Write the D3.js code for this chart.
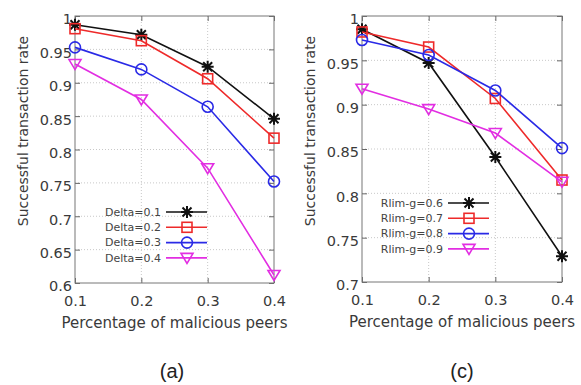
<!DOCTYPE html>
<html>
<head>
<meta charset="utf-8">
<script src="https://cdn.jsdelivr.net/npm/d3@7"></script>
<style>
  body { margin: 0; background: #fff; }
  svg { display: block; }
  .tick text { font-family: "DejaVu Sans", sans-serif; fill: #3a3a3a; }
</style>
</head>
<body>
<div id="chart"></div>
<script>
const xValues = [0.1, 0.2, 0.3, 0.4];

const deltaNames = ['Delta=0.1', 'Delta=0.2', 'Delta=0.3', 'Delta=0.4'];
const delta01 = [0.987, 0.972, 0.924, 0.846];
const delta02 = [0.981, 0.963, 0.906, 0.817];
const delta03 = [0.953, 0.920, 0.864, 0.752];
const delta04 = [0.928, 0.875, 0.772, 0.612];

const rlimNames = ['Rlim-g=0.6', 'Rlim-g=0.7', 'Rlim-g=0.8', 'Rlim-g=0.9'];
const rlim06 = [0.985, 0.947, 0.841, 0.729];
const rlim07 = [0.982, 0.965, 0.907, 0.815];
const rlim08 = [0.973, 0.956, 0.916, 0.851];
const rlim09 = [0.918, 0.895, 0.868, 0.813];

const leftTicks = [0.6, 0.65, 0.7, 0.75, 0.8, 0.85, 0.9, 0.95, 1];
const rightTicks = [0.7, 0.75, 0.8, 0.85, 0.9, 0.95, 1];

const colors = ['#111111', '#ee2a2a', '#2a2ae6', '#e22ee2'];
const symbols = ['star', 'square', 'circle', 'triangle'];

const svg = d3.select('#chart').append('svg')
  .attr('width', 581)
  .attr('height', 385);

function drawMarker(g, type, cx, cy, color) {
  const r = 6;
  if (type === 'star') {
    const p = d3.path();
    p.moveTo(cx - r, cy); p.lineTo(cx + r, cy);
    p.moveTo(cx, cy - r); p.lineTo(cx, cy + r);
    p.moveTo(cx - r * 0.75, cy - r * 0.75); p.lineTo(cx + r * 0.75, cy + r * 0.75);
    p.moveTo(cx - r * 0.75, cy + r * 0.75); p.lineTo(cx + r * 0.75, cy - r * 0.75);
    g.append('path').attr('d', p.toString()).attr('stroke', color).attr('stroke-width', 2).attr('fill', 'none');
  } else if (type === 'square') {
    g.append('rect').attr('x', cx - 5).attr('y', cy - 5).attr('width', 10).attr('height', 10)
      .attr('stroke', color).attr('stroke-width', 1.6).attr('fill', 'none');
  } else if (type === 'circle') {
    g.append('circle').attr('cx', cx).attr('cy', cy).attr('r', 5.5)
      .attr('stroke', color).attr('stroke-width', 1.6).attr('fill', 'none');
  } else {
    const p = d3.path();
    p.moveTo(cx - 6, cy - 4.5); p.lineTo(cx + 6, cy - 4.5); p.lineTo(cx, cy + 5.5); p.closePath();
    g.append('path').attr('d', p.toString()).attr('stroke', color).attr('stroke-width', 1.6).attr('fill', 'none');
  }
}

function drawPanel(opts) {
  const { left, right, top, bottom, yDomain, yTicks, series, names, legend, caption } = opts;
  const g = svg.append('g');

  const x = d3.scaleLinear().domain([0.1, 0.4]).range([left, right]);
  const y = d3.scaleLinear().domain(yDomain).range([bottom, top]);

  // grid
  g.append('g').selectAll('line').data(xValues.slice(1, -1)).join('line')
    .attr('x1', d => x(d)).attr('x2', d => x(d)).attr('y1', top).attr('y2', bottom)
    .attr('stroke', '#c8c8c8').attr('stroke-dasharray', '1,2');
  g.append('g').selectAll('line').data(yTicks.slice(1, -1)).join('line')
    .attr('x1', left).attr('x2', right).attr('y1', d => y(d)).attr('y2', d => y(d))
    .attr('stroke', '#c8c8c8').attr('stroke-dasharray', '1,2');

  // axes
  const fmt = d => String(+d.toFixed(2));
  const yAxis = g.append('g').attr('transform', `translate(${left},0)`)
    .call(d3.axisLeft(y).tickValues(yTicks).tickSize(-5).tickPadding(3).tickFormat(fmt));
  const yAxisR = g.append('g').attr('transform', `translate(${right},0)`)
    .call(d3.axisRight(y).tickValues(yTicks).tickSize(-5).tickFormat(''));
  const xAxis = g.append('g').attr('transform', `translate(0,${bottom})`)
    .call(d3.axisBottom(x).tickValues(xValues).tickSize(-5).tickPadding(13).tickFormat(d => d.toFixed(1)));
  const xAxisT = g.append('g').attr('transform', `translate(0,${top})`)
    .call(d3.axisTop(x).tickValues(xValues).tickSize(-5).tickFormat(''));
  [yAxis, yAxisR, xAxis, xAxisT].forEach(a => {
    a.select('.domain').remove();
    a.selectAll('.tick line').attr('stroke', '#666');
  });
  yAxis.selectAll('text').attr('font-size', 14.5).attr('dy', '0.55em');
  xAxis.selectAll('text').attr('font-size', 14.5);

  g.append('rect').attr('x', left).attr('y', top).attr('width', right - left).attr('height', bottom - top)
    .attr('fill', 'none').attr('stroke', '#777').attr('stroke-width', 1);

  // axis titles
  g.append('text')
    .attr('transform', `translate(${left - 47},${top + 115}) rotate(-90)`)
    .attr('text-anchor', 'middle')
    .attr('font-family', 'DejaVu Sans, sans-serif').attr('font-size', 14).attr('fill', '#3a3a3a')
    .text('Successful transaction rate');
  g.append('text')
    .attr('x', (left + right) / 2).attr('y', bottom + 45)
    .attr('text-anchor', 'middle')
    .attr('font-family', 'DejaVu Sans, sans-serif').attr('font-size', 15).attr('fill', '#3a3a3a')
    .text('Percentage of malicious peers');

  // legend
  names.forEach((n, i) => {
    const ly = legend.y + i * legend.dy;
    g.append('text').attr('x', legend.x).attr('y', ly).attr('dy', '0.35em')
      .attr('text-anchor', 'end')
      .attr('font-family', 'DejaVu Sans, sans-serif').attr('font-size', 11).attr('fill', '#444')
      .text(n);
    g.append('line').attr('x1', legend.x + 5).attr('x2', legend.x + 46).attr('y1', ly).attr('y2', ly)
      .attr('stroke', colors[i]).attr('stroke-width', 1.6);
    drawMarker(g, symbols[i], legend.x + 26, ly, colors[i]);
  });

  // series
  const line = d3.line().x((d, i) => x(xValues[i])).y(d => y(d));
  series.forEach((s, i) => {
    g.append('path').datum(s).attr('d', line)
      .attr('fill', 'none').attr('stroke', colors[i]).attr('stroke-width', 1.6);
    s.forEach((v, j) => drawMarker(g, symbols[i], x(xValues[j]), y(v), colors[i]));
  });

  // caption
  svg.append('text').attr('x', caption.x).attr('y', caption.y)
    .attr('text-anchor', 'middle')
    .attr('font-family', 'Liberation Sans, Arial, sans-serif').attr('font-size', 20).attr('fill', '#222')
    .text(caption.text);
}

drawPanel({
  left: 75, right: 274, top: 16, bottom: 283,
  yDomain: [0.6, 1], yTicks: leftTicks,
  series: [delta01, delta02, delta03, delta04],
  names: deltaNames,
  legend: { x: 161, y: 212, dy: 15.3 },
  caption: { x: 172, y: 378, text: '(a)' }
});

drawPanel({
  left: 362, right: 562, top: 16, bottom: 282,
  yDomain: [0.7, 1], yTicks: rightTicks,
  series: [rlim06, rlim07, rlim08, rlim09],
  names: rlimNames,
  legend: { x: 443, y: 203, dy: 15.3 },
  caption: { x: 462, y: 378, text: '(c)' }
});
</script>
</body>
</html>
